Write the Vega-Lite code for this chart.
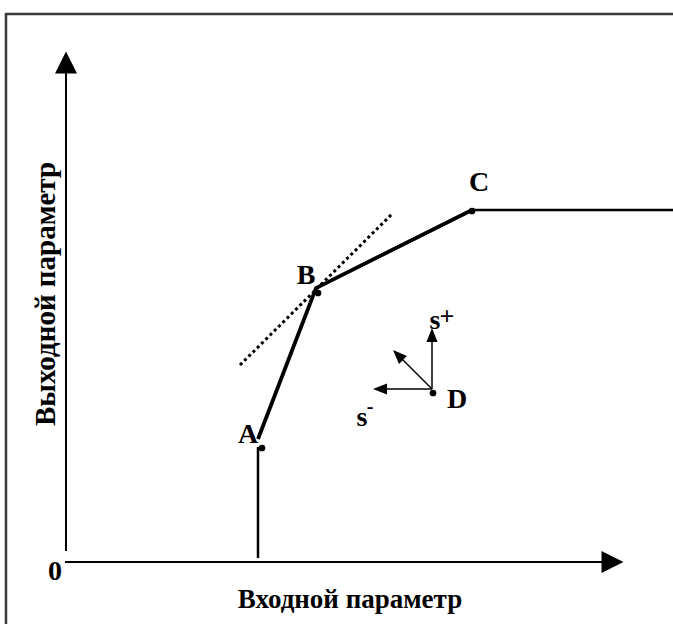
{
  "$schema": "https://vega.github.io/schema/vega-lite/v6.json",
  "width": 673,
  "height": 624,
  "padding": 0,
  "autosize": {"type": "fit", "contains": "padding"},
  "config": {"view": {"stroke": null}},
  "datasets": {
    "frame": [{"i": 0, "x": -60, "y": -62}, {"i": 1, "x": -60, "y": 548}, {"i": 2, "x": 607, "y": 548}],
    "axes": [
      {"seg": "y", "i": 0, "x": 0, "y": 11}, {"seg": "y", "i": 1, "x": 0, "y": 500},
      {"seg": "x", "i": 0, "x": -1, "y": 0}, {"seg": "x", "i": 1, "x": 540, "y": 0}
    ],
    "headUp": [{"x": 0, "y": 499.5}],
    "headRight": [{"x": 546.5, "y": 0}],
    "thick": [{"i": 0, "x": 192, "y": 123}, {"i": 1, "x": 250, "y": 274}, {"i": 2, "x": 406, "y": 352}],
    "thin": [
      {"seg": "v", "i": 0, "x": 192, "y": 4}, {"seg": "v", "i": 1, "x": 192, "y": 115},
      {"seg": "h", "i": 0, "x": 406, "y": 352}, {"seg": "h", "i": 1, "x": 607, "y": 352}
    ],
    "tangent": [{"i": 0, "x": 174, "y": 197}, {"i": 1, "x": 327, "y": 349}],
    "shafts": [
      {"v": "left", "i": 0, "x": 366, "y": 173}, {"v": "left", "i": 1, "x": 314, "y": 173},
      {"v": "up", "i": 0, "x": 366, "y": 173}, {"v": "up", "i": 1, "x": 366, "y": 227},
      {"v": "upleft", "i": 0, "x": 366, "y": 173}, {"v": "upleft", "i": 1, "x": 332, "y": 207}
    ],
    "vLeft": [{"x": 314, "y": 173}],
    "vUp": [{"x": 366, "y": 227}],
    "vUpLeft": [{"x": 332, "y": 207}],
    "points": [{"name": "A", "x": 196, "y": 114}, {"name": "B", "x": 252, "y": 269}, {"name": "C", "x": 406, "y": 351}, {"name": "D", "x": 367, "y": 169}],
    "labels": [
      {"t": "A", "x": 182, "y": 127}, {"t": "B", "x": 240, "y": 286}, {"t": "C", "x": 413, "y": 379},
      {"t": "D", "x": 391, "y": 162}, {"t": "s", "x": 369, "y": 241}, {"t": "s", "x": 296, "y": 144},
      {"t": "0", "x": -11, "y": -10}
    ],
    "plus": [{"t": "+", "x": 381, "y": 245}],
    "minus": [{"t": "-", "x": 304, "y": 155}],
    "xtitle": [{"t": "Входной параметр", "x": 284, "y": -38}],
    "ytitle": [{"t": "Выходной параметр", "x": -20, "y": 268}]
  },
  "encoding": {
    "x": {"field": "x", "type": "quantitative", "scale": {"domain": [-66, 607], "nice": false, "zero": false}, "axis": null},
    "y": {"field": "y", "type": "quantitative", "scale": {"domain": [-62, 562], "nice": false, "zero": false}, "axis": null}
  },
  "layer": [
    {"data": {"name": "frame"}, "mark": {"type": "line", "stroke": "#3a3a3a", "strokeWidth": 2.5, "clip": true}, "encoding": {"order": {"field": "i"}}},
    {"data": {"name": "axes"}, "mark": {"type": "line", "stroke": "black", "strokeWidth": 2}, "encoding": {"detail": {"field": "seg"}, "order": {"field": "i"}}},
    {"data": {"name": "headUp"}, "mark": {"type": "point", "shape": "M0,-1L-1,1L1,1Z", "size": 484, "angle": 0, "filled": true, "color": "black", "opacity": 1}},
    {"data": {"name": "headRight"}, "mark": {"type": "point", "shape": "M0,-1L-1,1L1,1Z", "size": 484, "angle": 90, "filled": true, "color": "black", "opacity": 1}},
    {"data": {"name": "thin"}, "mark": {"type": "line", "stroke": "black", "strokeWidth": 2.5, "clip": true}, "encoding": {"detail": {"field": "seg"}, "order": {"field": "i"}}},
    {"data": {"name": "thick"}, "mark": {"type": "line", "stroke": "black", "strokeWidth": 3.8, "strokeJoin": "miter"}, "encoding": {"order": {"field": "i"}}},
    {"data": {"name": "tangent"}, "mark": {"type": "line", "stroke": "black", "strokeWidth": 3, "strokeDash": [3, 3]}, "encoding": {"order": {"field": "i"}}},
    {"data": {"name": "shafts"}, "mark": {"type": "line", "stroke": "black", "strokeWidth": 1.5}, "encoding": {"detail": {"field": "v"}, "order": {"field": "i"}}},
    {"data": {"name": "vLeft"}, "mark": {"type": "point", "shape": "M0,-1L-0.8,1L0.8,1Z", "size": 196, "angle": 270, "filled": true, "color": "black", "opacity": 1}},
    {"data": {"name": "vUp"}, "mark": {"type": "point", "shape": "M0,-1L-0.8,1L0.8,1Z", "size": 196, "angle": 0, "filled": true, "color": "black", "opacity": 1}},
    {"data": {"name": "vUpLeft"}, "mark": {"type": "point", "shape": "M0,-1L-0.8,1L0.8,1Z", "size": 196, "angle": 315, "filled": true, "color": "black", "opacity": 1}},
    {"data": {"name": "points"}, "mark": {"type": "point", "shape": "circle", "size": 45, "filled": true, "color": "black", "opacity": 1}},
    {"data": {"name": "labels"}, "mark": {"type": "text", "font": "Liberation Serif", "fontWeight": "bold", "fontSize": 28, "align": "center", "baseline": "middle", "color": "black"}, "encoding": {"text": {"field": "t"}}},
    {"data": {"name": "plus"}, "mark": {"type": "text", "font": "Liberation Serif", "fontWeight": "bold", "fontSize": 26, "align": "center", "baseline": "middle", "color": "black"}, "encoding": {"text": {"field": "t"}}},
    {"data": {"name": "minus"}, "mark": {"type": "text", "font": "Liberation Serif", "fontWeight": "bold", "fontSize": 20, "align": "center", "baseline": "middle", "color": "black"}, "encoding": {"text": {"field": "t"}}},
    {"data": {"name": "xtitle"}, "mark": {"type": "text", "font": "Liberation Serif", "fontWeight": "bold", "fontSize": 27, "align": "center", "baseline": "middle", "color": "black"}, "encoding": {"text": {"field": "t"}}},
    {"data": {"name": "ytitle"}, "mark": {"type": "text", "font": "Liberation Serif", "fontWeight": "bold", "fontSize": 29, "angle": 270, "align": "center", "baseline": "middle", "color": "black"}, "encoding": {"text": {"field": "t"}}}
  ]
}
